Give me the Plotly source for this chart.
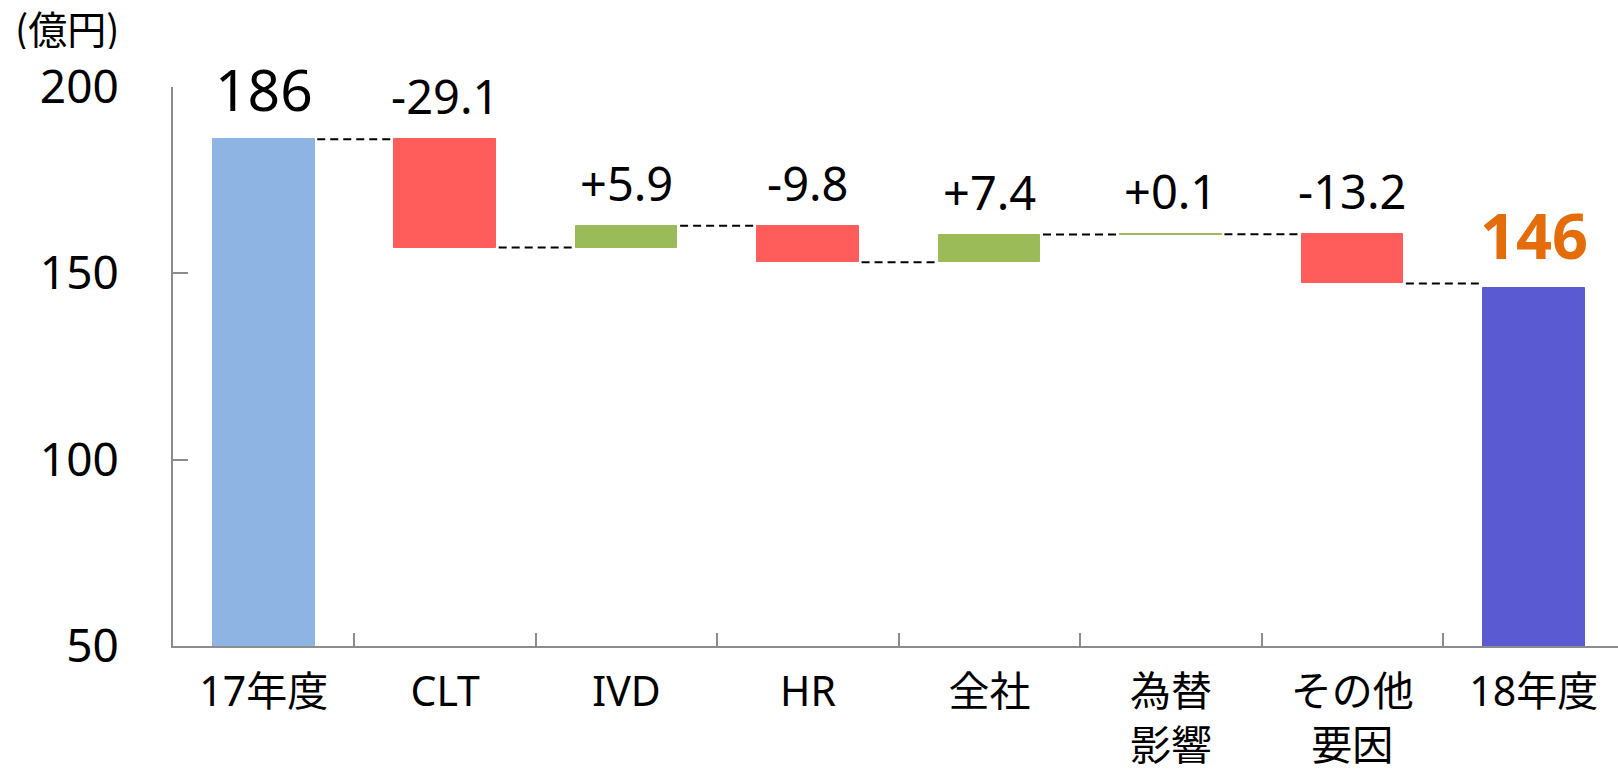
import plotly.graph_objects as go

# ---- data ----
categories = ["17年度", "CLT", "IVD", "HR", "全社", "為替<br>影響", "その他<br>要因", "18年度"]
start_value = 186
deltas = [-29.1, 5.9, -9.8, 7.4, 0.1, -13.2]
end_value = 146
y_ticks = [50, 100, 150, 200]
unit_label = "(億円)"

# ---- colours ----
C_START = "#8EB4E3"
C_END = "#5A5AD2"
C_UP = "#9BBB59"
C_DOWN = "#FF5C5C"
C_END_TEXT = "#E46C0A"
FONT = "Noto Sans, Noto Sans CJK JP, sans-serif"

# ---- build bars from data ----
bases, heights, colors, tops, labels = [], [], [], [], []
bases.append(0); heights.append(start_value); colors.append(C_START)
tops.append(start_value); labels.append(f"{start_value:g}")
levels = [start_value]
level = start_value
for d in deltas:
    new = round(level + d, 2)
    bases.append(min(level, new))
    heights.append(abs(d))
    colors.append(C_UP if d >= 0 else C_DOWN)
    tops.append(max(level, new))
    labels.append(f"{d:+.1f}")
    level = new
    levels.append(level)
bases.append(0); heights.append(end_value); colors.append(C_END)
tops.append(end_value); labels.append(f"{end_value:g}")

BAR_W = 0.56
n = len(categories)
fig = go.Figure()
fig.add_trace(go.Bar(
    x=categories, y=heights, base=bases, width=BAR_W,
    marker=dict(color=colors, line=dict(color=colors, width=1)),
    hoverinfo="skip", showlegend=False,
))

# connectors
for i, lv in enumerate(levels):
    fig.add_shape(type="line", xref="x", yref="y",
                  x0=i + BAR_W / 2 + 0.015, x1=i + 1 - BAR_W / 2 - 0.02,
                  y0=lv, y1=lv,
                  line=dict(color="black", width=2, dash="8px,5px"), layer="above")

# value labels
for i, (t, lab) in enumerate(zip(tops, labels)):
    if i == 0:
        f = dict(family=FONT, size=57, color="black")
    elif i == n - 1:
        f = dict(family=FONT, size=63, color=C_END_TEXT, weight="bold")
    else:
        f = dict(family=FONT, size=47, color="black")
    fig.add_annotation(x=i, y=t, xref="x", yref="y", text=lab, showarrow=False,
                       yanchor="bottom", xanchor="center", yshift=9, font=f)

# unit label
fig.add_annotation(xref="paper", yref="paper", x=-0.111, y=1.1065, text=unit_label,
                   showarrow=False, xanchor="left", yanchor="middle", height=44,
                   valign="middle",
                   font=dict(family="Noto Sans CJK JP, sans-serif", size=39, color="black"))

W, H = 1618, 771
L, R, T, B = 173.3, 0, 86.7, 125.3
CAT_PX = 181.4
fig.update_layout(
    width=W, height=H, margin=dict(l=L, r=R, t=T, b=B, autoexpand=False),
    plot_bgcolor="white", paper_bgcolor="white", bargap=0,
    font=dict(family=FONT, color="black"),
)
fig.update_xaxes(
    type="category",
    range=[-0.5, -0.5 + (W - L - R) / CAT_PX],
    tickson="boundaries",
    ticks="inside", ticklen=13, tickwidth=1.5, tickcolor="#8C8C8C",
    showline=True, linecolor="#8C8C8C", linewidth=2, showgrid=False, zeroline=False,
    tickfont=dict(family=FONT, size=41, color="black"), ticklabelstandoff=9,
)
fig.update_yaxes(
    range=[50, 200], tickvals=y_ticks, ticks="inside", ticklen=15, tickwidth=1.5,
    tickcolor="#8C8C8C", showline=True, linecolor="#8C8C8C", linewidth=2,
    showgrid=False, zeroline=False,
    tickfont=dict(family=FONT, size=46, color="black"), ticklabelstandoff=43,
)
fig.write_html(
    "out.html",
    config={"displayModeBar": False},
    post_script="document.body.style.margin='0';document.body.style.overflow='hidden';",
)
